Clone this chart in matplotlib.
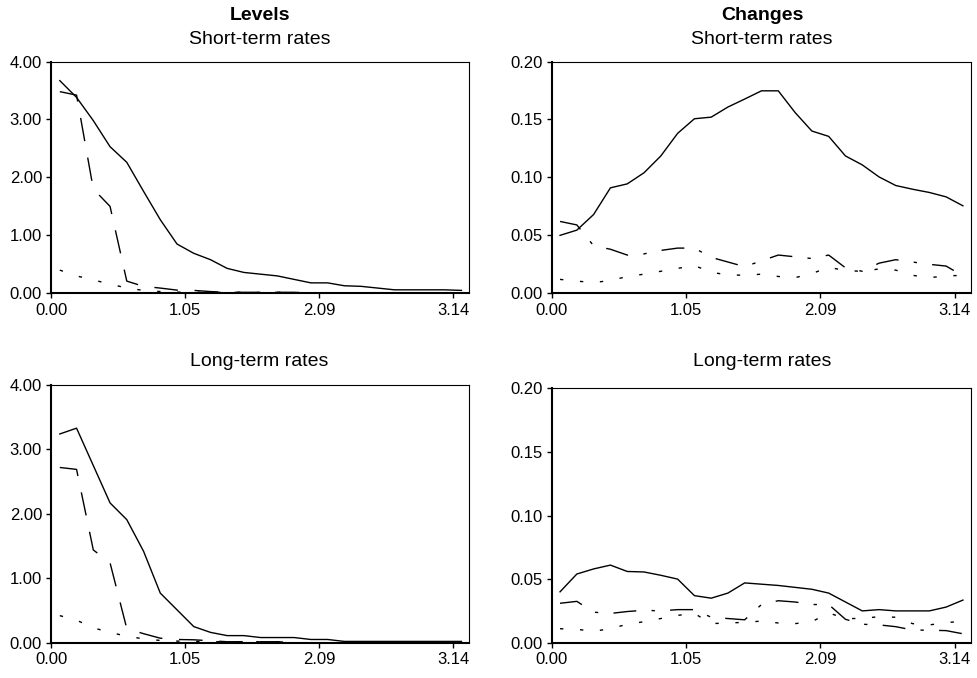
import numpy as np
import matplotlib
matplotlib.use("Agg")
import matplotlib.pyplot as plt
from matplotlib.ticker import FormatStrFormatter

plt.rcParams['font.family'] = ['Liberation Sans', 'DejaVu Sans']
plt.rcParams['lines.scale_dashes'] = False

# frequencies (radians)
freq = [0.065, 0.196, 0.327, 0.458, 0.589, 0.720, 0.851, 0.982, 1.113, 1.244,
        1.374, 1.505, 1.636, 1.767, 1.898, 2.029, 2.160, 2.291, 2.422, 2.553,
        2.683, 2.814, 2.945, 3.076, 3.207]

xtick_vals = [0.0, 1.0472, 2.0944, 3.1416]
xtick_labels = ["0.00", "1.05", "2.09", "3.14"]

# Levels, short-term rates
lev_short_solid = [3.67, 3.38, 2.98, 2.53, 2.26, 1.76, 1.27, 0.85, 0.69, 0.58,
                   0.43, 0.36, 0.33, 0.30, 0.24, 0.18, 0.18, 0.13, 0.12, 0.09,
                   0.06, 0.06, 0.06, 0.06, 0.05]
lev_short_dash = [3.48, 3.42, 1.80, 1.50, 0.21, 0.12, 0.09, 0.055, 0.05, 0.03,
                  0.017, 0.017, 0.017, 0.017, 0.017, 0.0, 0.0, 0.0, 0.0, 0.0,
                  0.0, 0.0, 0.0, 0.0, 0.0]
lev_short_dot = [0.40, 0.30, 0.23, 0.16, 0.09, 0.05, 0.03, 0.02, 0.017, 0.017,
                 0.017, 0.017, 0.017, 0.017, 0.017, 0.0, 0.0, 0.0, 0.0, 0.0,
                 0.0, 0.0, 0.0, 0.0, 0.0]

# Levels, long-term rates
lev_long_solid = [3.24, 3.33, 2.75, 2.17, 1.91, 1.42, 0.77, 0.51, 0.25, 0.16,
                  0.11, 0.11, 0.08, 0.08, 0.08, 0.05, 0.05, 0.02, 0.02, 0.02,
                  0.02, 0.02, 0.02, 0.02, 0.02]
lev_long_dash = [2.72, 2.69, 1.44, 1.24, 0.22, 0.14, 0.07, 0.05, 0.045, 0.03,
                 0.015, 0.015, 0.015, 0.015, 0.0, 0.0, 0.0, 0.0, 0.0, 0.0,
                 0.0, 0.0, 0.0, 0.0, 0.0]
lev_long_dot = [0.42, 0.35, 0.23, 0.16, 0.10, 0.06, 0.035, 0.025, 0.02, 0.015,
                0.015, 0.015, 0.015, 0.015, 0.0, 0.0, 0.0, 0.0, 0.0, 0.0,
                0.0, 0.0, 0.0, 0.0, 0.0]

# Changes, short-term rates
chg_short_solid = [0.050, 0.0545, 0.068, 0.091, 0.0944, 0.104, 0.1185, 0.138, 0.1506, 0.152,
                   0.1607, 0.1676, 0.1747, 0.1747, 0.156, 0.140, 0.1354, 0.1185, 0.1108, 0.1004,
                   0.093, 0.0898, 0.087, 0.0832, 0.0755]
chg_short_dash = [0.062, 0.059, 0.041, 0.038, 0.033, 0.034, 0.037, 0.039, 0.039, 0.031,
                  0.027, 0.023, 0.028, 0.033, 0.0315, 0.030, 0.033, 0.022, 0.019, 0.026,
                  0.029, 0.027, 0.025, 0.0235, 0.015]
chg_short_dot = [0.012, 0.0105, 0.0093, 0.011, 0.0145, 0.0165, 0.019, 0.0215, 0.024, 0.018,
                 0.016, 0.0155, 0.0165, 0.0145, 0.0135, 0.017, 0.0225, 0.0195, 0.019, 0.021,
                 0.020, 0.0155, 0.0135, 0.015, 0.0155]

# Changes, long-term rates
chg_long_solid = [0.040, 0.054, 0.058, 0.061, 0.056, 0.0556, 0.053, 0.050, 0.037, 0.035,
                  0.039, 0.047, 0.046, 0.045, 0.0435, 0.042, 0.039, 0.032, 0.025, 0.026,
                  0.025, 0.025, 0.025, 0.028, 0.0335]
chg_long_dash = [0.031, 0.0325, 0.024, 0.023, 0.0245, 0.0255, 0.025, 0.026, 0.026, 0.020,
                 0.019, 0.018, 0.030, 0.033, 0.032, 0.030, 0.030, 0.0184, 0.0145, 0.014,
                 0.0126, 0.0100, 0.0098, 0.0095, 0.007]
chg_long_dot = [0.011, 0.0105, 0.009, 0.011, 0.0145, 0.0165, 0.019, 0.0215, 0.023, 0.015,
                0.0155, 0.016, 0.017, 0.0155, 0.015, 0.0165, 0.0234, 0.019, 0.019, 0.0205,
                0.020, 0.015, 0.014, 0.0157, 0.017]

W, H = 978, 678
fig = plt.figure(figsize=(W / 100, H / 100), dpi=100)


def box(l, t, r, b):
    return [l / W, 1 - b / H, (r - l) / W, (b - t) / H]


ax_ls = fig.add_axes(box(51.5, 61.5, 469.5, 293.3))
ax_cs = fig.add_axes(box(551.7, 61.5, 971, 293.3))
ax_ll = fig.add_axes(box(51.5, 385, 469.5, 642.7))
ax_cl = fig.add_axes(box(551.7, 388.3, 971, 642.7))

dash_lev = (0, (17, 12))
dash_chg = (0, (16.5, 11, 2.4, 11))
dot_style = (0, (2.4, 12))


def style(ax, ymax, yticks, fmt):
    ax.set_xlim(0, 3.27)
    ax.set_ylim(0, ymax)
    ax.set_xticks(xtick_vals)
    ax.set_xticklabels(xtick_labels)
    ax.set_yticks(yticks)
    ax.yaxis.set_major_formatter(FormatStrFormatter(fmt))
    ax.tick_params(direction='out', length=3.8, width=1.0, labelsize=12,
                   pad=3, colors='black')
    for s in ['left', 'bottom']:
        ax.spines[s].set_linewidth(1.5)
    for s in ['top', 'right']:
        ax.spines[s].set_linewidth(0.8)


def draw(ax, solid, dash, dot, dstyle):
    ax.plot(freq, solid, color='black', lw=1.0, linestyle='-')
    ax.plot(freq, dash, color='black', lw=1.0, linestyle=dstyle)
    ax.plot(freq, dot, color='black', lw=1.0, linestyle=dot_style)


draw(ax_ls, lev_short_solid, lev_short_dash, lev_short_dot, dash_lev)
draw(ax_ll, lev_long_solid, lev_long_dash, lev_long_dot, dash_lev)
draw(ax_cs, chg_short_solid, chg_short_dash, chg_short_dot, dash_chg)
draw(ax_cl, chg_long_solid, chg_long_dash, chg_long_dot, dash_chg)

style(ax_ls, 4.0, [0, 1, 2, 3, 4], '%.2f')
style(ax_ll, 4.0, [0, 1, 2, 3, 4], '%.2f')
style(ax_cs, 0.20, [0, 0.05, 0.10, 0.15, 0.20], '%.2f')
style(ax_cl, 0.20, [0, 0.05, 0.10, 0.15, 0.20], '%.2f')

fig.text(260 / W, 1 - 15.7 / H, "Levels", ha='center', va='center',
         fontsize=14, fontweight='bold')
fig.text(762 / W, 1 - 15.7 / H, "Changes", ha='center', va='center',
         fontsize=14, fontweight='bold')
fig.text(260 / W, 1 - 39.5 / H, "Short-term rates", ha='center', va='center', fontsize=14)
fig.text(762 / W, 1 - 39.5 / H, "Short-term rates", ha='center', va='center', fontsize=14)
fig.text(259 / W, 1 - 361 / H, "Long-term rates", ha='center', va='center', fontsize=14)
fig.text(762 / W, 1 - 361 / H, "Long-term rates", ha='center', va='center', fontsize=14)

fig.savefig("out.png", dpi=100)
